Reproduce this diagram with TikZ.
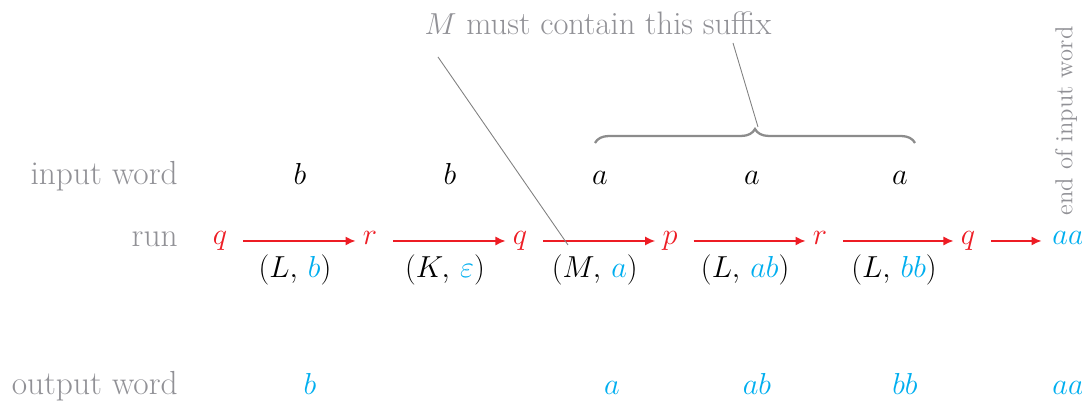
\documentclass[tikz,border=0pt]{standalone}
\usepackage{amsmath,amssymb}
\usepackage{tikz}
\usetikzlibrary{arrows.meta,positioning,decorations.pathreplacing}
\definecolor{runred}{RGB}{237,28,36}
\definecolor{outcyan}{RGB}{0,174,239}
\definecolor{notegray}{RGB}{145,145,150}
\newcommand{\oc}[1]{{\color{outcyan}#1}}

\begin{document}
\begin{tikzpicture}[
  x=0.2mm,y=0.2mm,
  every node/.style={font=\fontsize{17}{20}\selectfont,inner sep=0pt},
  row label/.style={anchor=base east,text=notegray,font=\fontsize{19}{22}\selectfont},
  letter/.style={anchor=base},
  state/.style={text=runred,text height=1.5ex,text depth=.5ex},
  outsym/.style={anchor=base,text=outcyan},
  flow/.style={-{Latex[length=2mm,width=1.8mm]},line width=.8pt,runred,shorten <=9pt,shorten >=4pt},
  edge label/.style={anchor=base,yshift=-7.4mm,text=black},
  pointer/.style={draw=gray,line width=.5pt},
  suffix brace/.style={decorate,decoration={brace,amplitude=2.8mm},line width=1.3pt,draw=gray!90}
]
\useasboundingbox (0,0) rectangle (1082,405);

% row labels
\node[row label] (inlbl) at (178,220) {input word};
\node[row label] (runlbl) at (178,158) {run};
\node[row label] (outlbl) at (178,10) {output word};
\node[rotate=90,text=notegray,font=\fontsize{14}{16}\selectfont] (endlbl) at (1066,284) {end of input word};

% input word
\node[letter] (in1) at (300,220) {$b$};
\node[letter] (in2) at (450,220) {$b$};
\node[letter] (in3) at (600,220) {$a$};
\node[letter] (in4) at (752,220) {$a$};
\node[letter] (in5) at (900,220) {$a$};

% run
\node[state] (s0) at (220,164) {$q$};
\node[state] (s1) at (370,164) {$r$};
\node[state] (s2) at (520,164) {$q$};
\node[state] (s3) at (670,164) {$p$};
\node[state] (s4) at (820,164) {$r$};
\node[state] (s5) at (968,164) {$q$};
\node[state,text=outcyan] (fin) at (1068,164) {$aa$};
\draw[flow] (s0) -- node[edge label] {$(L,\,\oc{b})$} (s1);
\draw[flow] (s1) -- node[edge label] {$(K,\,\oc{\varepsilon})$} (s2);
\draw[flow] (s2) -- node[edge label] {$(M,\,\oc{a})$} (s3);
\draw[flow] (s3) -- node[edge label] {$(L,\,\oc{ab})$} (s4);
\draw[flow] (s4) -- node[edge label] {$(L,\,\oc{bb})$} (s5);
\draw[flow,shorten >=6pt] (s5) -- (fin);

% output word
\node[outsym] (out1) at (310,10) {$b$};
\node[outsym] (out3) at (612,10) {$a$};
\node[outsym] (out4) at (757,10) {$ab$};
\node[outsym] (out5) at (905,10) {$bb$};
\node[outsym] (out6) at (1068,10) {$aa$};

% suffix note
\node[anchor=base,text=notegray,font=\fontsize{18.5}{22}\selectfont] (note) at (598,370) {$M$ must contain this suffix};
\coordinate (mfoot) at (438,348);
\coordinate (mtip) at (568,160);
\draw[pointer] (mfoot) -- (mtip);
\coordinate (brl) at (595,262);
\coordinate (brr) at (915,262);
\coordinate (brtip) at (758,278);
\coordinate (bfoot) at (733,362);
\draw[suffix brace] (brl) -- (brr);
\draw[pointer] (bfoot) -- (brtip);
\end{tikzpicture}
\end{document}
